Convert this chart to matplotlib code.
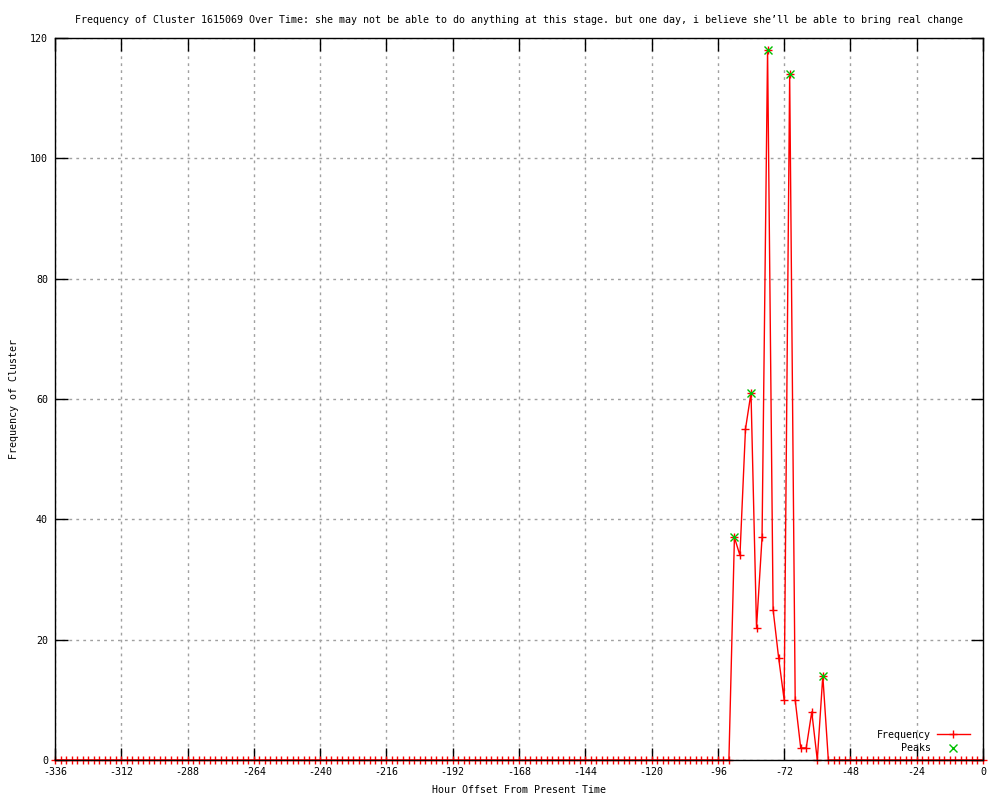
import numpy as np
import matplotlib.pyplot as plt
from matplotlib.ticker import MultipleLocator

plt.rcParams['font.family'] = ['DejaVu Sans Mono']
plt.rcParams['axes.unicode_minus'] = False

# hourly offsets, sampled every 2 hours
hours = np.arange(-336, 1, 2)
freq = np.zeros(len(hours))
active = {
    -90: 37, -88: 34, -86: 55, -84: 61, -82: 22, -80: 37, -78: 118,
    -76: 25, -74: 17, -72: 10, -70: 114, -68: 10, -66: 2, -64: 2,
    -62: 8, -60: 0, -58: 14,
}
for h, v in active.items():
    freq[hours == h] = v

peak_hours = [-90, -84, -78, -70, -58]
peak_vals = [37, 61, 118, 114, 14]

title = ("Frequency of Cluster 1615069 Over Time: she may not be able to do "
         "anything at this stage. but one day, i believe she\u2019ll be able "
         "to bring real change")

fig = plt.figure(figsize=(10, 8), dpi=100)
ax = fig.add_axes([0.055, 0.05, 0.928, 0.9025])

ax.plot(hours, freq, color='red', lw=1, marker='+', ms=6, mew=1,
        label='Frequency', clip_on=False, zorder=2)
ax.plot(peak_hours, peak_vals, ls='none', marker='x', color='#00c000',
        ms=6, mew=1, label='Peaks', zorder=4)

ax.set_xlim(-336, 0)
ax.set_ylim(0, 120)
ax.xaxis.set_major_locator(MultipleLocator(24))
ax.yaxis.set_major_locator(MultipleLocator(20))
ax.tick_params(direction='in', length=9, width=1, top=True, right=True,
               labelsize=7.2, pad=5)
ax.grid(True, color='#a0a0a0', ls=(0, (2, 3)), lw=1)
for s in ax.spines.values():
    s.set_linewidth(1)
    s.set_zorder(3)

ax.set_title(title, fontsize=7.2, pad=11)
ax.set_xlabel('Hour Offset From Present Time', fontsize=7.2, labelpad=6)
ax.set_ylabel('Frequency of Cluster', fontsize=7.2, labelpad=8)

leg = ax.legend(loc='lower right', frameon=False, fontsize=7.2,
                markerfirst=False, handlelength=3.3, borderaxespad=0.3,
                labelspacing=0.35, handletextpad=0.6,
                bbox_to_anchor=(0.993, 0.0))
for t in leg.get_texts():
    t.set_ha('right')

fig.savefig('out.png', dpi=100)
